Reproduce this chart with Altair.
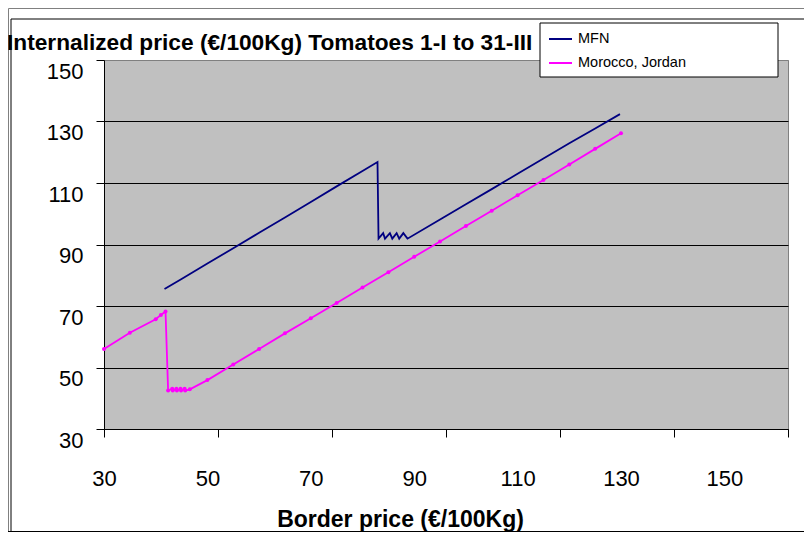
import altair as alt
import pandas as pd

# ---- data ----
series_names = ["MFN", "Morocco, Jordan"]
series_colors = ["#000080", "#FF00FF"]

mfn_border = [41.7, 45, 50, 55, 60, 65, 70, 75, 80, 82.9,
              83.1, 84.0, 84.35, 85.3, 85.76, 86.6, 87.1, 87.9, 88.7,
              95, 100, 105, 110, 115, 120, 125, 129.8]
mfn_internal = [75.5, 78.8, 83.8, 88.8, 93.8, 98.8, 103.8, 108.9, 113.9, 116.8,
                91.9, 93.7, 91.9, 93.7, 91.9, 93.7, 91.9, 93.7, 91.9,
                98.1, 103.1, 108.0, 113.0, 118.0, 122.9, 127.7, 132.4]

mor_border = [30, 35, 40, 41, 41.9,
              42.4, 43.2, 43.3, 44.0, 44.1, 44.8, 44.9, 45.6, 45.7, 46.6,
              50, 55, 60, 65, 70, 75, 80, 85, 90, 95, 100, 105, 110, 115, 120, 125, 130]
mor_internal = [56.0, 61.3, 65.7, 67.1, 68.2,
                42.5, 43.1, 42.5, 43.1, 42.5, 43.1, 42.5, 43.1, 42.5, 42.9,
                45.9, 51.0, 56.0, 61.1, 66.0, 71.0, 76.0, 81.0, 86.0, 91.0, 96.0,
                101.0, 106.0, 111.0, 116.0, 121.1, 126.2]

x_labels = [30, 50, 70, 90, 110, 130, 150]
y_labels = [30, 50, 70, 90, 110, 130, 150]
category_ticks = [0, 1, 2, 3, 4, 5, 6]

title_text = "Internalized price (€/100Kg) Tomatoes 1-I to 31-III"
x_title = "Border price (€/100Kg)"

FONT = "Liberation Sans"

mfn = pd.DataFrame({"bp": mfn_border, "ip": mfn_internal, "series": series_names[0]})
mor = pd.DataFrame({"bp": mor_border, "ip": mor_internal, "series": series_names[1]})
df = pd.concat([mfn, mor], ignore_index=True)
df["i"] = range(len(df))

W, H = 684, 369

color = alt.Color(
    "series:N",
    scale=alt.Scale(domain=series_names, range=series_colors),
    legend=alt.Legend(
        orient="none", legendX=444, legendY=-33.5, title=None,
        symbolType="stroke", symbolSize=529, symbolStrokeWidth=2,
        labelFontSize=14.5, labelFont=FONT, labelColor="black",
        rowPadding=5, labelOffset=5, padding=0,
    ),
)

x_enc = alt.X(
    "bp:Q",
    scale=alt.Scale(domain=[30, 162.3], nice=False, zero=False),
    axis=alt.Axis(
        values=x_labels, ticks=False, tickSize=0, labelPadding=39,
        labelFontSize=22, labelFont=FONT, labelColor="black",
        labelFlush=False, labelOverlap=False, grid=False,
        domainColor="black", title=x_title, titleFontSize=23,
        titleFontWeight="bold", titleFont=FONT, titleColor="black",
        titleX=296, titleY=97, titleBaseline="alphabetic", titleAlign="center",
    ),
)
y_enc = alt.Y(
    "ip:Q",
    scale=alt.Scale(domain=[30, 150], nice=False, zero=False),
    axis=alt.Axis(
        values=y_labels, tickSize=8, tickColor="black", labelPadding=13,
        labelOffset=11, labelFontSize=22, labelFont=FONT, labelColor="black",
        labelFlush=False, grid=True,
        gridColor=alt.condition("datum.value == 150", alt.value("#808080"), alt.value("black")),
        domainColor="black", title=None,
    ),
)

lines = alt.Chart(df).mark_line(strokeWidth=1.8).encode(
    x=x_enc, y=y_enc, color=color, order=alt.Order("i:Q")
)
points = alt.Chart(mor).mark_point(filled=True, size=16, opacity=1).encode(
    x=x_enc, y=y_enc, color=color
)
data_layer = alt.layer(lines, points)

ticks_layer = alt.Chart(pd.DataFrame({"t": [category_ticks[0], category_ticks[-1]]})).mark_point(opacity=0).encode(
    x=alt.X("t:Q", scale=alt.Scale(domain=[0, 6], nice=False, zero=False),
            axis=alt.Axis(orient="bottom", values=category_ticks, labels=False,
                          domain=False, grid=False, ticks=True, tickSize=8,
                          tickColor="black", title=None))
)

plot = alt.layer(data_layer, ticks_layer).resolve_scale(x="independent")

one = alt.Data(values=[{}])
def vrule(x, y1, y2, c):
    return alt.Chart(one).mark_rule(color=c, strokeWidth=1).encode(
        x=alt.value(x), y=alt.value(y1), y2=alt.value(y2))
def hrule(y, x1, x2, c):
    return alt.Chart(one).mark_rule(color=c, strokeWidth=1).encode(
        y=alt.value(y), x=alt.value(x1), x2=alt.value(x2))

frame = [
    vrule(-95.5, -51.5, 472, "#808080"),
    hrule(-51.5, -95.5, 700, "#808080"),
    vrule(-93, -41, 472, "#000000"),
    hrule(-41, -93, 700, "#000000"),
    hrule(471.5, -96, 700, "#000000"),
]

legend_box = alt.Chart(one).mark_rect(fill="white", stroke="black", strokeWidth=1).encode(
    x=alt.value(436), x2=alt.value(674), y=alt.value(-37), y2=alt.value(17)
)

title = alt.Chart(one).mark_text(
    text=title_text, align="left", baseline="alphabetic", fontSize=22.7,
    fontWeight="bold", font=FONT, color="black"
).encode(x=alt.value(-97), y=alt.value(-10))

chart = alt.layer(plot, *frame, legend_box, title).properties(
    width=W, height=H,
    padding={"left": 96, "top": 52, "right": 16, "bottom": 103},
    autosize=alt.AutoSizeParams(type="none"),
    background="white",
).configure_view(fill="#C0C0C0", stroke="#808080", strokeWidth=1)

chart.save("out.html", embed_options={"renderer": "svg", "actions": False})
